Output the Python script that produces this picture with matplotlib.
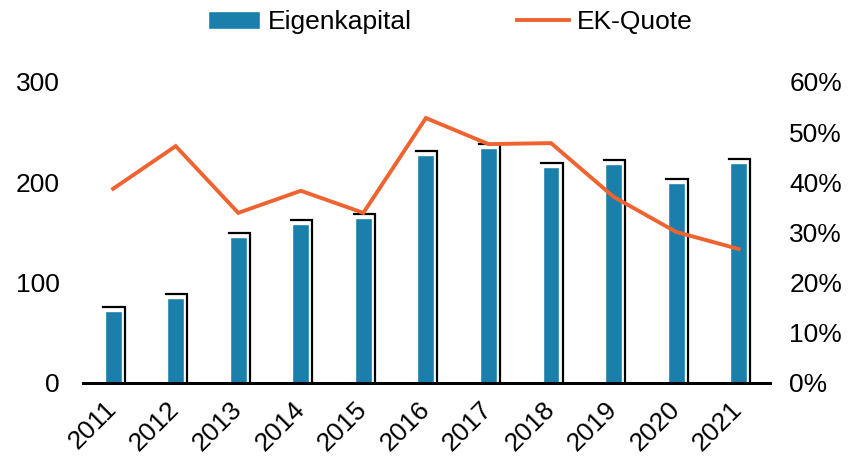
import matplotlib
matplotlib.use("Agg")
from matplotlib import pyplot as plt
from matplotlib.lines import Line2D
from matplotlib.patches import Patch
from matplotlib.ticker import PercentFormatter

years = ["2011", "2012", "2013", "2014", "2015", "2016", "2017", "2018", "2019", "2020", "2021"]
eigenkapital = [72, 85, 145, 158, 164, 227, 234, 215, 218, 199, 219]
ek_quote = [38.7, 47.2, 33.9, 38.3, 33.9, 52.8, 47.6, 47.8, 37.1, 30.1, 26.7]

blue = "#1a7faa"
orange = "#ef6330"

plt.rcParams["font.family"] = ["Liberation Sans", "DejaVu Sans"]

fig = plt.figure(figsize=(8.48, 4.59), dpi=100)
ax = fig.add_axes([0.098, 0.1656, 0.81, 0.656])
ax2 = ax.twinx()

x = list(range(len(years)))
w = 0.27
dx = 0.05
dv = 4

# shadow frame (top + right edge) behind each bar
for xi, v in zip(x, eigenkapital):
    ax.plot([xi - w / 2 - 0.02, xi + w / 2 + dx, xi + w / 2 + dx],
            [v + dv, v + dv, 0], color="black", lw=1.6, zorder=1,
            solid_joinstyle="miter")
ax.bar(x, eigenkapital, width=w, color=blue, edgecolor="white", lw=1, zorder=2)

ax2.plot(x, ek_quote, color=orange, lw=2.8, solid_joinstyle="miter")

ax.set_xlim(-0.48, 10.5)
ax.set_ylim(0, 300)
ax.set_yticks([0, 100, 200, 300])
ax2.set_ylim(0, 60)
ax2.set_yticks(range(0, 61, 10))
ax2.yaxis.set_major_formatter(PercentFormatter(decimals=0))

ax.set_xticks(x)
ax.set_xticklabels(years, rotation=45, ha="right", va="center",
                   rotation_mode="anchor")

for a in (ax, ax2):
    for s in ("top", "left", "right"):
        a.spines[s].set_visible(False)
    a.spines["bottom"].set_linewidth(2)
    a.tick_params(length=0, labelsize=19)
ax.tick_params(axis="y", pad=17)
ax2.tick_params(axis="y", pad=14)
ax.tick_params(axis="x", pad=16)

handles = [Patch(facecolor=blue, edgecolor="white"),
           Line2D([0], [0], color=orange, lw=2.8)]
fig.legend(handles, ["Eigenkapital", "EK-Quote"], loc="center",
           bbox_to_anchor=(0.531, 0.952), ncol=2, frameon=False, fontsize=19,
           columnspacing=4.0, handlelength=1.95, handletextpad=0.3)

fig.savefig("out.png", dpi=100)
